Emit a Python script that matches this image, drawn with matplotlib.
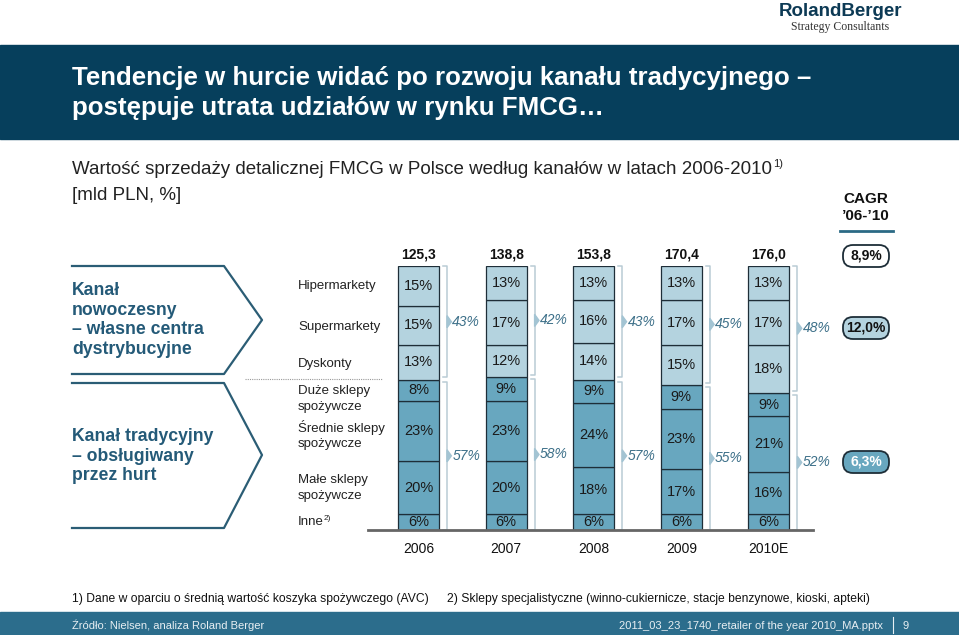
import numpy as np
import matplotlib.pyplot as plt
from matplotlib import font_manager
from matplotlib.patches import Rectangle, FancyBboxPatch, Polygon

# dane
years = ['2006', '2007', '2008', '2009', '2010E']
totals = ['125,3', '138,8', '153,8', '170,4', '176,0']
inne = [6, 6, 6, 6, 6]
male = [20, 20, 18, 17, 16]
srednie = [23, 23, 24, 23, 21]
duze = [8, 9, 9, 9, 9]
dyskonty = [13, 12, 14, 15, 18]
supermarkety = [15, 17, 16, 17, 17]
hipermarkety = [15, 13, 13, 13, 13]
udzial_nowoczesny = [43, 42, 43, 45, 48]
udzial_tradycyjny = [57, 58, 57, 55, 52]
cagr = ['8,9%', '12,0%', '6,3%']

kategorie = ['Hipermarkety', 'Supermarkety', 'Dyskonty', 'Duże sklepy\nspożywcze',
             'Średnie sklepy\nspożywcze', 'Małe sklepy\nspożywcze']

JASNY = '#b4d3df'
CIEMNY = '#68a7bf'
GRANAT = '#063f5c'
MORSKI = '#245a78'
KRAWEDZ = '#1e2e38'

plt.rcParams['font.family'] = ['Liberation Sans', 'DejaVu Sans']


def font_ok(name):
    try:
        font_manager.findfont(name, fallback_to_default=False)
        return True
    except Exception:
        return False


waski = 'Liberation Sans Narrow' if font_ok('Liberation Sans Narrow') else 'Liberation Sans'

W, H = 959, 635
fig = plt.figure(figsize=(W / 100, H / 100), dpi=100)

# warstwa dekoracji w pikselach
bg = fig.add_axes([0, 0, 1, 1])
bg.set_xlim(0, W)
bg.set_ylim(H, 0)
bg.axis('off')

# logo
bg.text(840, 11, 'RolandBerger', family=waski, fontsize=13.5, weight='bold',
        color='#0d3a55', ha='center', va='center')
bg.text(840, 27, 'Strategy Consultants', family='Liberation Serif', fontsize=8.5,
        color='#333333', ha='center', va='center')

# pasek tytulowy
bg.add_patch(Rectangle((0, 45), W, 94, color=GRANAT, zorder=1))
bg.text(72, 78, 'Tendencje w hurcie widać po rozwoju kanału tradycyjnego –',
        fontsize=18.6, weight='bold', color='white', va='center', zorder=2)
bg.text(72, 108, 'postępuje utrata udziałów w rynku FMCG…',
        fontsize=18.6, weight='bold', color='white', va='center', zorder=2)

# podtytul
bg.text(72, 170, 'Wartość sprzedaży detalicznej FMCG w Polsce według kanałów w latach 2006-2010',
        fontsize=13.5, color='#222222', va='center')
bg.text(773, 164, '1)', fontsize=8, color='#222222', va='center')
bg.text(72, 195, '[mld PLN, %]', fontsize=13.5, color='#222222', va='center')

# CAGR
bg.text(866, 199, 'CAGR', fontsize=11, weight='bold', color='#111111', ha='center', va='center')
bg.text(866, 216, '’06-’10', fontsize=11, weight='bold', color='#111111', ha='center', va='center')
bg.plot([840, 893], [231, 231], color='#2b6a85', lw=2)

pill_y = [256, 328, 462]
pill_fc = ['white', JASNY, CIEMNY]
pill_tc = ['#111111', '#111111', 'white']
for val, py, fc, tc in zip(cagr, pill_y, pill_fc, pill_tc):
    bg.add_patch(FancyBboxPatch((847, py - 7), 38, 14,
                                boxstyle='round,pad=4,rounding_size=10',
                                fc=fc, ec=KRAWEDZ, lw=1.3))
    bg.text(866, py, val, fontsize=10, weight='bold', color=tc, ha='center', va='center')

# szewrony po lewej
bg.plot([72, 224, 262, 224, 72], [266, 266, 320, 374, 374], color='#2b5d75', lw=1.6)
bg.plot([72, 224, 262, 224, 72], [383, 383, 455, 528, 528], color='#2b5d75', lw=1.6)
bg.text(72, 282, 'Kanał\nnowoczesny\n– własne centra\ndystrybucyjne', fontsize=12.7,
        weight='bold', color=MORSKI, va='top', linespacing=1.2)
bg.text(72, 428, 'Kanał tradycyjny\n– obsługiwany\nprzez hurt', fontsize=12.7,
        weight='bold', color=MORSKI, va='top', linespacing=1.2)

# etykiety kategorii
kat_y = [286, 327, 364, 399, 435, 488]
for lab, ky in zip(kategorie, kat_y):
    bg.text(298, ky, lab, fontsize=9.5, color='#222222', va='center', linespacing=1.35)
bg.text(298, 522, 'Inne', fontsize=9.5, color='#222222', va='center')
bg.text(324, 518, '2)', fontsize=6, color='#222222', va='center')
bg.plot([245, 382], [379, 379], color='#999999', lw=0.8, ls=(0, (1, 1)))

# stopka
bg.text(72, 599, '1) Dane w oparciu o średnią wartość koszyka spożywczego (AVC)',
        family=waski, fontsize=8.7, color='#111111', va='center')
bg.text(447, 599, '2) Sklepy specjalistyczne (winno-cukiernicze, stacje benzynowe, kioski, apteki)',
        family=waski, fontsize=8.7, color='#111111', va='center')
bg.add_patch(Rectangle((0, 612), W, 23, color='#2c6d8c'))
bg.text(72, 625, 'Źródło: Nielsen, analiza Roland Berger', family=waski, fontsize=8,
        color='#e8eff3', va='center')
bg.text(883, 626, '2011_03_23_1740_retailer of the year 2010_MA.pptx', family=waski,
        fontsize=8, color='#e8eff3', va='center', ha='right')
bg.plot([893, 893], [617, 633], color='#e8eff3', lw=0.8)
bg.text(906, 626, '9', family=waski, fontsize=8, color='#e8eff3', va='center', ha='center')

# wykres slupkowy
L, R = 374.7, 847.7
ax = fig.add_axes([L / W, (H - 530) / H, (R - L) / W, 264 / H])
ax.set_xlim(-0.5, 4.9)
ax.set_ylim(0, 100)
ax.axis('off')

x = np.arange(len(years))
szer = 41 / 87.6
warstwy = [inne, male, srednie, duze, dyskonty, supermarkety, hipermarkety]
kolory = [CIEMNY, CIEMNY, CIEMNY, CIEMNY, JASNY, JASNY, JASNY]
dol = np.zeros(len(years))
for w, k in zip(warstwy, kolory):
    w = np.array(w)
    ax.bar(x, w, szer, bottom=dol, color=k, edgecolor=KRAWEDZ, lw=0.9, zorder=2)
    for xi, b, v in zip(x, dol, w):
        ax.text(xi, b + v / 2, f'{v}%', ha='center', va='center', fontsize=10.5,
                color='#1a1a1a', zorder=3)
    dol = dol + w

for xi, t, yr in zip(x, totals, years):
    ax.text(xi, 104.5, t, ha='center', va='center', fontsize=10, weight='bold',
            color='#111111', clip_on=False)
    ax.text(xi, -7.3, yr, ha='center', va='center', fontsize=10, color='#111111',
            clip_on=False)

# nawiasy z udzialami
bx = 28.5 / 87.6
tick = 4 / 87.6
gap = 0.8
for xi, un, ut in zip(x, udzial_nowoczesny, udzial_tradycyjny):
    granica = ut
    for y0, y1, val in [(granica + gap, 100, un), (0, granica - gap, ut)]:
        ax.plot([xi + bx - tick, xi + bx, xi + bx, xi + bx - tick], [y1, y1, y0, y0],
                color='#b9ccd5', lw=1.1, zorder=1, clip_on=False)
        ym = (y0 + y1) / 2
        ax.add_patch(Polygon([[xi + bx, ym + 2.3], [xi + bx, ym - 2.3], [xi + bx + 0.05, ym]],
                             closed=True, color='#a3c4d3', zorder=2, clip_on=False))
        ax.text(xi + bx + 0.06, ym, f'{val}%', ha='left', va='center', fontsize=10,
                style='italic', color='#3d7089', clip_on=False)

ax.plot([-(418.5 - 368) / 87.6, 4 + (813 - 769) / 87.6], [0, 0],
        color='#666666', lw=2, clip_on=False, zorder=4)

fig.savefig('out.png', dpi=100)
